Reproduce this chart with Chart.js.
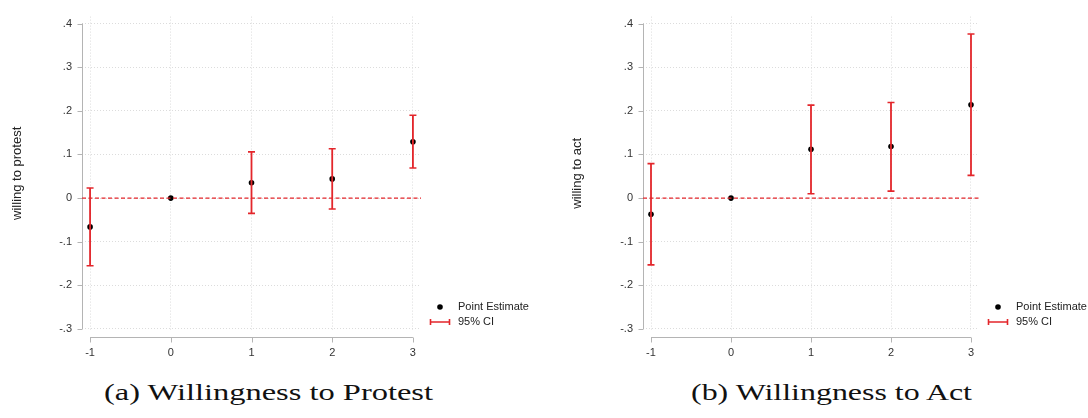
<!DOCTYPE html>
<html>
<head>
<meta charset="utf-8">
<script src="https://cdn.jsdelivr.net/npm/chart.js@4/dist/chart.umd.min.js"></script>
<style>
body { margin: 0; background: #fff; width: 1088px; height: 418px; position: relative; overflow: hidden; }
.box { position: absolute; top: 0; width: 544px; height: 370px; }
.cap { position: absolute; top: 380px; font-family: "Liberation Serif", serif; font-size: 24px; line-height: 1; color: #111; white-space: nowrap; transform-origin: left top; }
</style>
</head>
<body>
<div class="box" style="left:0"><canvas id="protestChart"></canvas></div>
<div class="box" style="left:544px"><canvas id="actChart"></canvas></div>
<div class="cap" id="capA">(a) Willingness to Protest</div>
<div class="cap" id="capB">(b) Willingness to Act</div>
<script>
// event time (x axis)
var periods = [-1, 0, 1, 2, 3];
var yTicks = [-0.3, -0.2, -0.1, 0, 0.1, 0.2, 0.3, 0.4];

// (a) willing to protest
var protestEst  = [-0.066, 0, 0.035, 0.044, 0.129];
var protestLow  = [-0.155, null, -0.035, -0.025, 0.069];
var protestHigh = [0.023, null, 0.106, 0.113, 0.190];

// (b) willing to act
var actEst  = [-0.037, 0, 0.112, 0.118, 0.214];
var actLow  = [-0.153, null, 0.010, 0.016, 0.052];
var actHigh = [0.079, null, 0.213, 0.219, 0.376];

var red = '#e3262b';
var tickFont = { family: '"Liberation Sans", Arial, sans-serif', size: 11 };

function fmt(v) {
    if (Math.abs(v) < 1e-9) return '0';
    return v.toFixed(1).replace('0.', '.');
}

// stata-like axis lines, detached from the plot region
var stataAxes = {
    id: 'stataAxes',
    beforeDatasetsDraw: function(chart) {
        var ctx = chart.ctx, a = chart.chartArea;
        var xs = chart.scales.x, ys = chart.scales.y;
        ctx.save();
        ctx.strokeStyle = '#b4b4b4';
        ctx.lineWidth = 1;
        ctx.beginPath();
        var lx = Math.round(a.left) + 0.5;
        ctx.moveTo(lx, ys.getPixelForValue(yTicks[yTicks.length - 1]));
        ctx.lineTo(lx, ys.getPixelForValue(yTicks[0]));
        yTicks.forEach(function(v) {
            var py = Math.round(ys.getPixelForValue(v)) + 0.5;
            ctx.moveTo(lx - 5, py);
            ctx.lineTo(lx, py);
        });
        var by = Math.round(a.bottom) + 7.5;
        ctx.moveTo(xs.getPixelForValue(periods[0]), by);
        ctx.lineTo(xs.getPixelForValue(periods[periods.length - 1]), by);
        periods.forEach(function(p) {
            var px = Math.round(xs.getPixelForValue(p)) + 0.5;
            ctx.moveTo(px, by);
            ctx.lineTo(px, by + 5);
        });
        ctx.stroke();
        ctx.restore();
    }
};

// legend sitting at the lower right, outside the plot
var sideLegend = {
    id: 'sideLegend',
    afterDraw: function(chart) {
        var ctx = chart.ctx, a = chart.chartArea;
        var ds = chart.data.datasets;
        var pt = ds[3], ci = ds[1];
        var x0 = a.right;
        ctx.save();
        ctx.font = '11px "Liberation Sans", Arial, sans-serif';
        ctx.textBaseline = 'middle';
        ctx.fillStyle = '#000';
        ctx.beginPath();
        ctx.arc(x0 + 19, a.bottom - 23, 2.8, 0, Math.PI * 2);
        ctx.fill();
        ctx.strokeStyle = red;
        ctx.lineWidth = 1.6;
        ctx.beginPath();
        ctx.moveTo(x0 + 9, a.bottom - 8);
        ctx.lineTo(x0 + 29, a.bottom - 8);
        ctx.moveTo(x0 + 9.5, a.bottom - 11);
        ctx.lineTo(x0 + 9.5, a.bottom - 5);
        ctx.moveTo(x0 + 28.5, a.bottom - 11);
        ctx.lineTo(x0 + 28.5, a.bottom - 5);
        ctx.stroke();
        ctx.fillStyle = '#222';
        ctx.fillText(pt.label, x0 + 37, a.bottom - 23);
        ctx.fillText(ci.label, x0 + 37, a.bottom - 8);
        ctx.restore();
    }
};

function ciSegments(low, high) {
    var out = [];
    for (var i = 0; i < periods.length; i++) {
        if (low[i] === null) continue;
        out.push({ x: periods[i], y: low[i] });
        out.push({ x: periods[i], y: high[i] });
        out.push({ x: periods[i], y: null });
    }
    return out;
}

function capPoints(low, high) {
    var out = [];
    for (var i = 0; i < periods.length; i++) {
        if (low[i] === null) continue;
        out.push({ x: periods[i], y: low[i] });
        out.push({ x: periods[i], y: high[i] });
    }
    return out;
}

function createChart(obj) {
    return new Chart(obj.ctx, {
        type: 'scatter',
        data: {
            datasets: [{
                type: 'line',
                label: 'zero',
                data: [{ x: -1.1, y: 0 }, { x: 3.1, y: 0 }],
                borderColor: red,
                borderWidth: 1.3,
                borderDash: [4, 2.5],
                pointRadius: 0
            }, {
                type: 'line',
                label: '95% CI',
                data: ciSegments(obj.low, obj.high),
                borderColor: red,
                borderWidth: 1.8,
                spanGaps: false,
                pointRadius: 0
            }, {
                label: 'caps',
                data: capPoints(obj.low, obj.high),
                pointStyle: 'line',
                radius: 3.5,
                borderColor: red,
                borderWidth: 1.6
            }, {
                label: 'Point Estimate',
                data: periods.map(function(p, i) { return { x: p, y: obj.est[i] }; }),
                pointStyle: 'circle',
                radius: 2.8,
                backgroundColor: '#000',
                borderColor: '#000',
                borderWidth: 0
            }]
        },
        options: {
            responsive: true,
            maintainAspectRatio: false,
            animation: false,
            events: [],
            layout: { padding: { top: 13, right: obj.padRight, left: 0, bottom: 0 } },
            plugins: { legend: { display: false }, tooltip: { enabled: false } },
            scales: {
                x: {
                    type: 'linear',
                    min: -1.1,
                    max: 3.1,
                    afterBuildTicks: function(s) { s.ticks = periods.map(function(p) { return { value: p }; }); },
                    afterFit: function(s) { s.height = 40; },
                    grid: { color: '#dcdcdc', lineWidth: 1, drawTicks: false },
                    border: { display: false, dash: [1, 2] },
                    ticks: { font: tickFont, color: '#333', padding: 16, maxRotation: 0,
                             callback: function(v) { return String(v); } }
                },
                y: {
                    min: -0.3023,
                    max: 0.4159,
                    afterBuildTicks: function(s) { s.ticks = yTicks.map(function(v) { return { value: v }; }); },
                    afterFit: function(s) { s.width = obj.axisWidth; },
                    grid: { color: '#dcdcdc', lineWidth: 1, drawTicks: false },
                    border: { display: false, dash: [1, 2] },
                    ticks: { font: tickFont, color: '#333', padding: 10, callback: fmt },
                    title: {
                        display: true,
                        text: obj.name,
                        font: { family: '"Liberation Sans", Arial, sans-serif', size: 13 },
                        color: '#222',
                        padding: { top: obj.titlePad, bottom: 0 }
                    }
                }
            }
        },
        plugins: [stataAxes, sideLegend]
    });
}

var protestChart = createChart({
    name: 'willing to protest',
    est: protestEst, low: protestLow, high: protestHigh,
    axisWidth: 82, padRight: 123, titlePad: 10,
    ctx: document.getElementById('protestChart').getContext('2d')
});

var actChart = createChart({
    name: 'willing to act',
    est: actEst, low: actLow, high: actHigh,
    axisWidth: 99, padRight: 109, titlePad: 26,
    ctx: document.getElementById('actChart').getContext('2d')
});

function fitCaption(id, left, right) {
    var el = document.getElementById(id);
    var w = el.getBoundingClientRect().width;
    el.style.left = left + 'px';
    el.style.transform = 'scaleX(' + ((right - left) / w) + ')';
}
fitCaption('capA', 104, 433);
fitCaption('capB', 691, 972);
</script>
</body>
</html>
